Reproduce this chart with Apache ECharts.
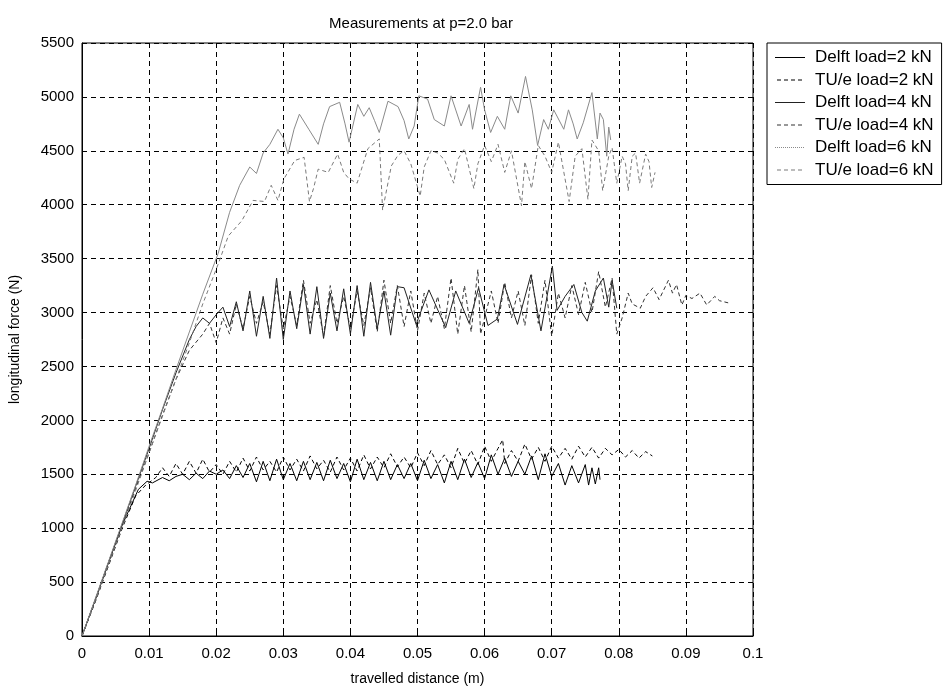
<!DOCTYPE html>
<html>
<head>
<meta charset="utf-8">
<script src="https://cdn.jsdelivr.net/npm/echarts@6/dist/echarts.min.js"></script>
<style>html,body{margin:0;padding:0;background:#fff}#c{width:949px;height:691px}</style>
</head>
<body>
<div id="c"></div>
<script>
const titleText = 'Measurements at p=2.0 bar';
const xName = 'travelled distance (m)';
const yName = 'longitudinal force (N)';
const seriesNames = ['Delft load=2 kN','TU/e load=2 kN','Delft load=4 kN','TU/e load=4 kN','Delft load=6 kN','TU/e load=6 kN'];

const delft2 = [[0,0],[0.002,340],[0.004,690],[0.006,1030],[0.0084,1360],[0.0097,1435],[0.0105,1420],[0.012,1470],[0.013,1440],
[0.014,1480],[0.015,1500],[0.016,1450],[0.017,1510],[0.018,1460],[0.019,1530],[0.020,1500],[0.021,1540],[0.022,1460],[0.023,1580],[0.024,1470],
[0.025,1600],[0.026,1430],[0.027,1620],[0.028,1440],[0.029,1640],[0.030,1450],[0.031,1600],[0.032,1440],[0.033,1620],[0.034,1450],
[0.035,1610],[0.036,1440],[0.037,1630],[0.038,1460],[0.039,1600],[0.040,1430],[0.041,1640],[0.042,1450],[0.043,1610],[0.044,1440],
[0.045,1620],[0.046,1450],[0.047,1590],[0.048,1460],[0.049,1600],[0.050,1440],[0.051,1630],[0.052,1460],[0.053,1590],[0.054,1420],
[0.055,1620],[0.056,1450],[0.057,1640],[0.058,1470],[0.059,1610],[0.060,1460],[0.061,1680],[0.062,1500],[0.063,1650],[0.064,1480],
[0.065,1620],[0.066,1500],[0.067,1670],[0.068,1450],[0.069,1690],[0.070,1480],[0.071,1600],[0.072,1400],[0.073,1580],[0.074,1420],
[0.075,1590],[0.0755,1400],[0.076,1560],[0.0765,1410],[0.077,1560],[0.0772,1450]];

const tue2 = [[0,0],[0.002,320],[0.004,660],[0.006,1000],[0.008,1300],[0.0095,1400],[0.011,1470],
[0.012,1560],[0.013,1480],[0.014,1600],[0.015,1500],[0.016,1620],[0.017,1510],[0.018,1640],[0.019,1520],[0.020,1590],[0.021,1500],
[0.022,1620],[0.023,1520],[0.024,1650],[0.025,1530],[0.026,1660],[0.027,1540],[0.028,1620],[0.029,1520],[0.030,1660],[0.031,1540],
[0.032,1640],[0.033,1530],[0.034,1670],[0.035,1550],[0.036,1630],[0.037,1520],[0.038,1660],[0.039,1540],[0.040,1650],[0.041,1530],
[0.042,1680],[0.043,1550],[0.044,1660],[0.045,1560],[0.046,1690],[0.047,1570],[0.048,1660],[0.049,1560],[0.050,1700],[0.051,1580],
[0.052,1720],[0.053,1590],[0.054,1680],[0.055,1560],[0.056,1740],[0.057,1600],[0.058,1720],[0.059,1590],[0.060,1760],[0.061,1620],
[0.062,1740],[0.0627,1820],[0.063,1600],[0.064,1720],[0.065,1620],[0.066,1780],[0.067,1640],[0.068,1750],[0.069,1620],[0.070,1760],
[0.071,1650],[0.072,1740],[0.073,1640],[0.074,1760],[0.075,1660],[0.076,1750],[0.077,1650],[0.078,1740],[0.079,1680],[0.080,1730],
[0.081,1660],[0.082,1720],[0.083,1650],[0.084,1710],[0.085,1670]];

const delft4 = [[0,0],[0.002,340],[0.004,690],[0.006,1040],[0.008,1390],[0.010,1740],[0.012,2100],[0.014,2440],[0.016,2750],[0.017,2870],
[0.018,2950],[0.019,2900],[0.020,2980],[0.021,3050],[0.022,2870],[0.023,3100],[0.024,2830],[0.025,3200],[0.026,2780],[0.027,3150],
[0.028,2760],[0.029,3320],[0.030,2750],[0.031,3200],[0.032,2850],[0.033,3260],[0.034,2800],[0.035,3240],[0.036,2760],[0.037,3180],
[0.038,2830],[0.039,3220],[0.040,2800],[0.041,3250],[0.042,2780],[0.043,3280],[0.044,2850],[0.045,3200],[0.046,2790],[0.047,3240],
[0.048,3230],[0.0498,2890],[0.0517,3210],[0.0542,2860],[0.0557,3200],[0.0577,2900],[0.0591,3230],[0.0605,2880],[0.0619,2940],
[0.0629,3260],[0.0649,2890],[0.0669,3350],[0.0684,2830],[0.0701,3430],[0.0708,3020],[0.0720,3150],[0.0733,3260],[0.0745,3000],
[0.0753,2920],[0.0765,3200],[0.0777,3320],[0.0785,3050],[0.0790,3300],[0.0797,3040]];

const tue4 = [[0,0],[0.002,330],[0.004,680],[0.006,1030],[0.008,1370],[0.010,1700],[0.012,2050],[0.014,2380],[0.016,2650],[0.018,2800],
[0.019,2900],[0.020,2720],[0.021,2950],[0.022,2800],[0.023,3080],[0.024,2850],[0.025,3150],[0.026,2900],[0.027,3100],[0.028,2800],
[0.029,3250],[0.030,2850],[0.031,3150],[0.032,2880],[0.033,3300],[0.034,2900],[0.035,3120],[0.036,2780],[0.037,3250],[0.038,2900],
[0.039,3150],[0.040,2850],[0.041,3200],[0.042,2880],[0.043,3230],[0.044,2820],[0.045,3300],[0.046,2900],[0.047,3250],[0.048,2870],
[0.049,3200],[0.050,2830],[0.051,3180],[0.052,2900],[0.053,3150],[0.054,2850],[0.055,3320],[0.056,2800],[0.057,3250],[0.058,2820],
[0.059,3400],[0.0594,2800],[0.061,3200],[0.062,2900],[0.063,3280],[0.064,2950],[0.065,3200],[0.066,2880],[0.067,3350],[0.068,2900],
[0.069,3300],[0.070,2780],[0.071,3180],[0.072,2950],[0.073,3250],[0.074,2980],[0.075,3280],[0.076,3000],[0.077,3380],[0.078,3050],
[0.079,3320],[0.0797,2800],[0.0805,2950],[0.0814,3180],[0.082,3080],[0.0832,3040],[0.084,3150],[0.0851,3230],[0.086,3120],[0.0874,3300],
[0.088,3180],[0.0886,3260],[0.0894,3070],[0.090,3160],[0.0909,3130],[0.0921,3180],[0.0931,3070],[0.0943,3150],[0.095,3110],[0.0963,3090]];

const delft6 = [[0,0],[0.002,350],[0.004,700],[0.006,1050],[0.008,1400],[0.010,1760],[0.012,2110],[0.014,2470],[0.016,2820],[0.018,3170],
[0.0203,3550],[0.022,3930],[0.0235,4180],[0.025,4350],[0.026,4290],[0.027,4480],[0.028,4560],[0.0292,4700],[0.0300,4620],[0.0307,4470],
[0.0316,4700],[0.0324,4840],[0.0338,4700],[0.0352,4560],[0.0360,4750],[0.0369,4910],[0.0384,4950],[0.0392,4750],[0.0398,4580],
[0.0411,4930],[0.0420,4820],[0.0428,4900],[0.0436,4780],[0.0443,4670],[0.0456,4960],[0.0471,4910],[0.0480,4780],[0.0487,4610],
[0.0495,4730],[0.0502,5010],[0.0515,4980],[0.0525,4790],[0.0540,4730],[0.0550,5010],[0.0565,4730],[0.0577,4930],[0.0582,4700],
[0.0594,5090],[0.0600,4880],[0.0609,4670],[0.0619,4820],[0.0630,4700],[0.0639,5010],[0.0650,4850],[0.0661,5190],[0.0671,4880],
[0.0679,4550],[0.0688,4790],[0.0695,4700],[0.0703,4880],[0.0718,4700],[0.0725,4880],[0.0732,4750],[0.0738,4610],[0.0747,4760],
[0.0760,5040],[0.0768,4610],[0.0772,4850],[0.0777,4790],[0.0782,4450],[0.0785,4720],[0.0788,4600]];

const tue6 = [[0,0],[0.002,330],[0.004,670],[0.006,1010],[0.008,1350],[0.010,1700],[0.012,2040],[0.014,2380],[0.016,2720],[0.018,3080],
[0.0203,3450],[0.0218,3710],[0.0238,3850],[0.0255,4040],[0.0272,4030],[0.0282,4180],[0.0292,4040],[0.0301,4240],[0.0317,4410],
[0.0331,4440],[0.0339,4030],[0.0345,4150],[0.0352,4330],[0.0367,4300],[0.0381,4470],[0.0390,4300],[0.0398,4240],[0.0410,4200],
[0.0426,4520],[0.0443,4610],[0.0448,3950],[0.0461,4360],[0.0471,4460],[0.0480,4500],[0.0490,4380],[0.0504,4080],[0.0510,4350],
[0.0520,4500],[0.0530,4480],[0.0540,4420],[0.0554,4200],[0.0560,4420],[0.0570,4520],[0.0584,4150],[0.0590,4380],[0.0600,4550],
[0.0610,4400],[0.0620,4560],[0.0630,4300],[0.0640,4500],[0.0655,3990],[0.0660,4400],[0.0670,4150],[0.0680,4550],[0.0690,4450],
[0.0700,4300],[0.0710,4580],[0.0726,4030],[0.0735,4450],[0.0745,4520],[0.0754,4050],[0.0760,4600],[0.0770,4500],[0.0776,4130],
[0.0785,4450],[0.0790,4530],[0.0797,4200],[0.0805,4450],[0.0810,4380],[0.0814,4130],[0.0820,4450],[0.0825,4480],[0.0831,4200],
[0.0840,4470],[0.0845,4400],[0.0849,4160],[0.0854,4300]];

const seriesData = [delft2, tue2, delft4, tue4, delft6, tue6];
const seriesColors = ['#000000','#000000','#222222','#333333','#8a8a8a','#7a7a7a'];
const seriesDash = ['solid',[4,3],'solid',[4,3],'solid',[4,3]];

// legend glyphs: a thin horizontal stroke (solid / dashed / dotted) inside a 30x14 box
const boxEdges = 'M0 0H0.01V0.01H0Z M29.99 13.99H30V14H29.99Z ';
const solidIcon = 'path://' + boxEdges + 'M0 6.5H30V7.5H0Z';
const dashIcon = 'path://' + boxEdges + 'M2 6.5H6V7.5H2Z M9 6.5H13V7.5H9Z M16 6.5H20V7.5H16Z M23 6.5H27V7.5H23Z';
const dotIcon = 'path://' + boxEdges + 'M0 6.5H1V7.5H0Z M2 6.5H3V7.5H2Z M4 6.5H5V7.5H4Z M6 6.5H7V7.5H6Z M8 6.5H9V7.5H8Z M10 6.5H11V7.5H10Z M12 6.5H13V7.5H12Z M14 6.5H15V7.5H14Z M16 6.5H17V7.5H16Z M18 6.5H19V7.5H18Z M20 6.5H21V7.5H20Z M22 6.5H23V7.5H22Z M24 6.5H25V7.5H24Z M26 6.5H27V7.5H26Z M28 6.5H29V7.5H28Z';
const legendIcons = [solidIcon, dashIcon, solidIcon, dashIcon, dotIcon, dashIcon];

const FONT = "'Liberation Sans', Arial, sans-serif";
const chart = echarts.init(document.getElementById('c'), null, {renderer:'canvas'});
chart.setOption({
  animation:false,
  backgroundColor:'#ffffff',
  title:{text:titleText,left:416,top:11,textAlign:'center',textStyle:{fontFamily:FONT,fontSize:15,fontWeight:'normal',color:'#000'}},
  grid:{left:80,right:196,top:43,bottom:50,show:true,borderColor:'#000',borderWidth:1,backgroundColor:'#fff'},
  legend:{orient:'vertical',left:767,top:43,itemWidth:30,itemHeight:14,itemGap:5.5,padding:[6,8,6,8],
    backgroundColor:'#fff',borderColor:'#000',borderWidth:1,borderRadius:0,
    textStyle:{fontFamily:FONT,fontSize:17,color:'#000',padding:[0,0,0,5]},
    data:seriesNames.map((n,i)=>({name:n,icon:legendIcons[i],itemStyle:{color:seriesColors[i],borderWidth:0}}))},
  xAxis:{type:'value',min:0,max:0.1,interval:0.01,name:xName,nameLocation:'middle',nameGap:36,
    nameTextStyle:{fontFamily:FONT,fontSize:14,color:'#000'},
    axisLine:{show:true,lineStyle:{color:'#000'}},axisTick:{inside:true,length:5,lineStyle:{color:'#000'}},
    axisLabel:{fontFamily:FONT,fontSize:15,color:'#000',margin:10,formatter:v=>String(+v.toFixed(2))},
    splitLine:{show:true,lineStyle:{color:'#000',type:[5,4],width:1}}},
  yAxis:{type:'value',min:0,max:5500,interval:500,name:yName,nameLocation:'middle',nameGap:60,
    nameTextStyle:{fontFamily:FONT,fontSize:14,color:'#000'},
    axisLine:{show:true,lineStyle:{color:'#000'}},axisTick:{inside:true,length:5,lineStyle:{color:'#000'}},
    axisLabel:{fontFamily:FONT,fontSize:15,color:'#000',margin:8,formatter:v=>String(Math.round(v))},
    splitLine:{show:true,lineStyle:{color:'#000',type:[5,4],width:1}}},
  series: seriesNames.map((n,i)=>({name:n,type:'line',data:seriesData[i],symbol:'none',showSymbol:false,
    lineStyle:{color:seriesColors[i],width:1,type:seriesDash[i]},itemStyle:{color:seriesColors[i]},z:2+i}))
});
</script>
</body>
</html>
